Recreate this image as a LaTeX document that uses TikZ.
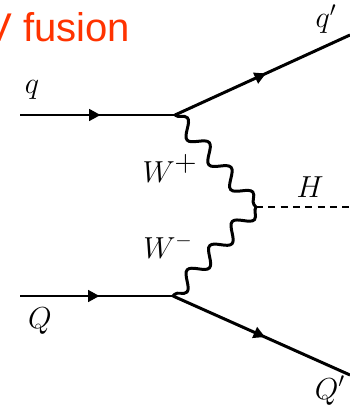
\documentclass[tikz,border=0pt]{standalone}
\usepackage{fontspec}
\newfontfamily\titlefont{Liberation Sans}
\usetikzlibrary{arrows.meta}
\usetikzlibrary{decorations.pathmorphing}
\usetikzlibrary{decorations.markings}
\definecolor{fusionred}{RGB}{255,51,0}

\tikzset{
  fermion/.style={line width=1.7pt, postaction={decorate},
    decoration={markings, mark=at position 0.52 with {\arrow{Triangle[length=6.5pt,width=6.5pt]}}}},
  boson/.style={line width=1.7pt, decorate,
    decoration={snake, segment length=0.66cm, amplitude=0.15cm}},
  scalar/.style={line width=1.6pt, dash pattern=on 4pt off 3pt},
  lbl/.style={inner sep=0pt, anchor=base, font=\fontsize{17}{20}\selectfont}
}

\begin{document}
\begin{tikzpicture}[x=0.02cm, y=-0.02cm]
\useasboundingbox (0,0) rectangle (350,411);
\clip (0,0) rectangle (350,411);

% title
\node[inner sep=0pt, anchor=base west, text=fusionred,
      font=\titlefont\fontsize{22.8}{26}\selectfont] (title) at (-15,42) {V fusion};

% vertices and external ends
\coordinate (qin)  at (20,115);
\coordinate (v1)   at (175,115);
\coordinate (qout) at (350,35);
\coordinate (vh)   at (256,207);
\coordinate (hout) at (350,207);
\coordinate (Qin)  at (20,296);
\coordinate (v2)   at (173,296);
\coordinate (Qout) at (350,375);

\draw[fermion] (qin) -- (v1);
\draw[fermion] (v1) -- (qout);
\draw[fermion] (Qin) -- (v2);
\draw[fermion] (v2) -- (Qout);
\draw[boson] (v1) -- (vh);
\draw[boson] (vh) -- (v2);
\draw[scalar] (vh) -- (hout);

% labels
\node[lbl] (lq)  at (32,94)   {$q$};
\node[lbl] (lqp) at (326,28)  {$q'$};
\node[lbl] (lwp) at (170,183) {$W^{\textstyle +}$};
\node[lbl] (lwm) at (168,258) {$W^-$};
\node[lbl] (lh)  at (310,198) {$H$};
\node[lbl] (lQ)  at (40,328)  {$Q$};
\node[lbl] (lQp) at (330,399) {$Q'$};
\end{tikzpicture}
\end{document}
